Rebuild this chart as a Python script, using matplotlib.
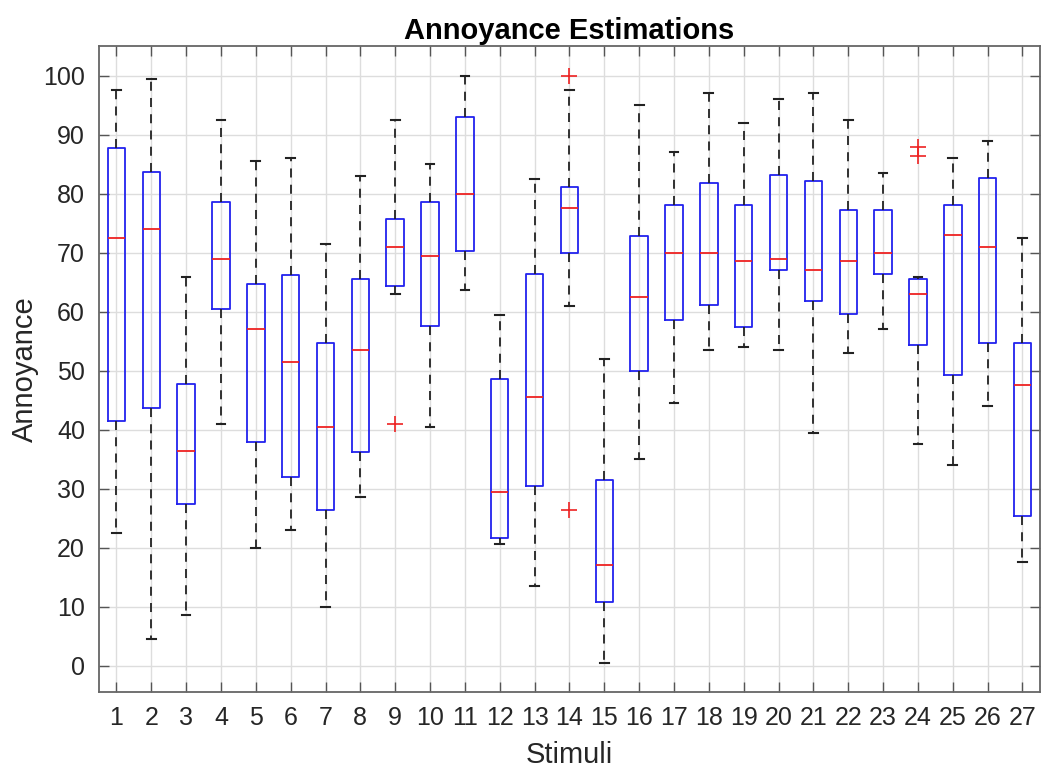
import numpy as np
import matplotlib
matplotlib.use('Agg')
import matplotlib.pyplot as plt

plt.rcParams['font.family'] = ['Liberation Sans', 'DejaVu Sans']

stimuli = list(range(1, 28))
whislo = [22.5, 4.5, 8.5, 41, 20, 23, 10, 28.6, 63, 40.5,
          63.6, 20.6, 13.5, 61, 0.5, 35, 44.5, 53.5, 54, 53.5,
          39.5, 53, 57, 37.5, 34, 44, 17.6]
q1 = [41.5, 43.6, 27.4, 60.4, 37.9, 32, 26.3, 36.2, 64.4, 57.6,
      70.3, 21.6, 30.5, 70, 10.7, 49.9, 58.5, 61.1, 57.4, 67.1,
      61.8, 59.6, 66.3, 54.3, 49.2, 54.6, 25.4]
med = [72.5, 74, 36.4, 69, 57, 51.5, 40.5, 53.5, 71, 69.5,
       80, 29.5, 45.5, 77.5, 17, 62.5, 70, 70, 68.5, 69,
       67, 68.5, 70, 63, 73, 71, 47.6]
q3 = [87.7, 83.6, 47.7, 78.5, 64.7, 66.2, 54.6, 65.5, 75.7, 78.5,
      93, 48.5, 66.3, 81.2, 31.5, 72.8, 78.1, 81.8, 78.1, 83.2,
      82.2, 77.3, 77.3, 65.6, 78, 82.7, 54.6]
whishi = [97.5, 99.4, 65.9, 92.5, 85.5, 86, 71.5, 83, 92.5, 85,
          100, 59.4, 82.5, 97.5, 52, 95, 87, 97, 92, 96,
          97, 92.4, 83.5, 65.9, 86, 89, 72.4]
outliers = {9: [40.9], 14: [100, 26.4], 24: [87.9, 86.4]}

stats = []
for i, s in enumerate(stimuli):
    stats.append({'whislo': whislo[i], 'q1': q1[i], 'med': med[i],
                  'q3': q3[i], 'whishi': whishi[i],
                  'fliers': outliers.get(s, []), 'label': str(s)})

fig = plt.figure(figsize=(10.42, 7.69), dpi=100)
ax = fig.add_axes([0.095, 0.100, 0.903, 0.840])

ax.bxp(stats, positions=stimuli, widths=0.5,
       boxprops=dict(color='#2222ee', linewidth=1.3),
       medianprops=dict(color='#ee2222', linewidth=1.3),
       whiskerprops=dict(color='#222222', linestyle=(0, (5, 4)), linewidth=1.3),
       capprops=dict(color='#222222', linewidth=1.5),
       capwidths=0.25,
       flierprops=dict(marker='+', markeredgecolor='#ee2222', markersize=11,
                       markeredgewidth=1.2, linestyle='none'))

ax.set_xlim(0.5, 27.5)
ax.set_ylim(-4.5, 105)
ax.set_yticks(np.arange(0, 101, 10))
ax.set_xticks(stimuli)
ax.set_xticklabels([str(s) for s in stimuli])
ax.grid(True, color='#dddddd', linewidth=1)
ax.set_axisbelow(True)
ax.tick_params(direction='in', length=7, width=1, colors='#555555',
               labelcolor='#262626', labelsize=18, top=True, right=True, pad=10)
for sp in ax.spines.values():
    sp.set_color('#666666')
    sp.set_linewidth(1.3)

ax.set_title('Annoyance Estimations', fontsize=21, fontweight='bold', pad=5)
ax.set_xlabel('Stimuli', fontsize=21, color='#262626', labelpad=8)
ax.set_ylabel('Annoyance', fontsize=21, color='#262626', labelpad=3)

fig.savefig('out.png', dpi=100)
